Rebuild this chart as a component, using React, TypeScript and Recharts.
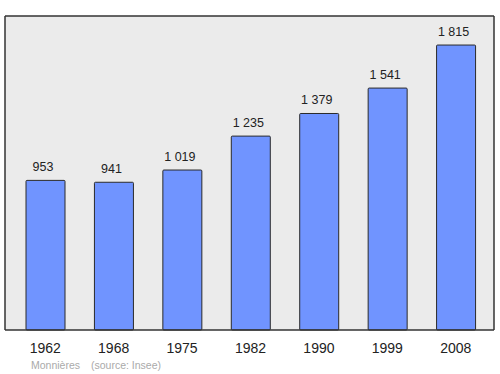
import React from 'react';
import { BarChart, Bar, XAxis, YAxis, CartesianGrid, LabelList } from 'recharts';

const years = ['1962', '1968', '1975', '1982', '1990', '1999', '2008'];
const population = [953, 941, 1019, 1235, 1379, 1541, 1815];
const yDomain: [number, number] = [0, 2000];
const placeName = 'Monnières';
const sourceText = '(source: Insee)';

const data = years.map((y, i) => ({ year: y, pop: population[i] }));

const FONT = '"Liberation Sans", Arial, sans-serif';
const FRAME = { stroke: '#333', strokeWidth: 1.5 };

const fmt = (n: number) =>
  n >= 1000 ? `${Math.floor(n / 1000)}\u00a0${String(n % 1000).padStart(3, '0')}` : String(n);

const ValueLabel = (props: any) => {
  const { x, y, width, value } = props;
  return (
    <text
      x={Number(x) + Number(width) / 2 - 2.5}
      y={Number(y) - 9.5}
      textAnchor="middle"
      fontSize={12.5}
      fontFamily={FONT}
      fill="#222"
    >
      {fmt(Number(value))}
    </text>
  );
};

export default function App() {
  return (
    <div style={{ position: 'absolute', left: 0, top: 0, width: 500, height: 374, background: '#fff' }}>
      <BarChart
        width={500}
        height={374}
        data={data}
        margin={{ top: 15, right: 5, bottom: 0, left: 4 }}
        barSize={39}
      >
        <CartesianGrid fill="#ebebeb" horizontal={false} vertical={false} />
        <XAxis
          dataKey="year"
          height={44}
          padding={{ left: 6, right: 4 }}
          axisLine={FRAME}
          tickLine={false}
          tickSize={6}
          tickMargin={7}
          tick={{ fontSize: 14, fontFamily: FONT, fill: '#222' }}
          interval={0}
        />
        <XAxis
          xAxisId="top"
          dataKey="year"
          orientation="top"
          height={1}
          axisLine={FRAME}
          tick={false}
          tickLine={false}
        />
        <YAxis
          domain={yDomain}
          width={1}
          axisLine={FRAME}
          tick={false}
          tickLine={false}
        />
        <YAxis
          yAxisId="right"
          orientation="right"
          domain={yDomain}
          width={1}
          axisLine={FRAME}
          tick={false}
          tickLine={false}
        />
        <Bar dataKey="pop" fill="#7094ff" stroke="#2a2a2a" strokeWidth={1} radius={1} isAnimationActive={false}>
          <LabelList dataKey="pop" content={ValueLabel} />
        </Bar>
      </BarChart>
      <div
        style={{
          position: 'absolute',
          left: 31,
          top: 358.6,
          fontSize: 10.5,
          lineHeight: '12px',
          fontFamily: FONT,
          color: '#aaa',
          whiteSpace: 'nowrap',
        }}
      >
        {placeName}
      </div>
      <div
        style={{
          position: 'absolute',
          left: 91,
          top: 358.6,
          fontSize: 10.5,
          lineHeight: '12px',
          fontFamily: FONT,
          color: '#aaa',
          whiteSpace: 'nowrap',
        }}
      >
        {sourceText}
      </div>
    </div>
  );
}
